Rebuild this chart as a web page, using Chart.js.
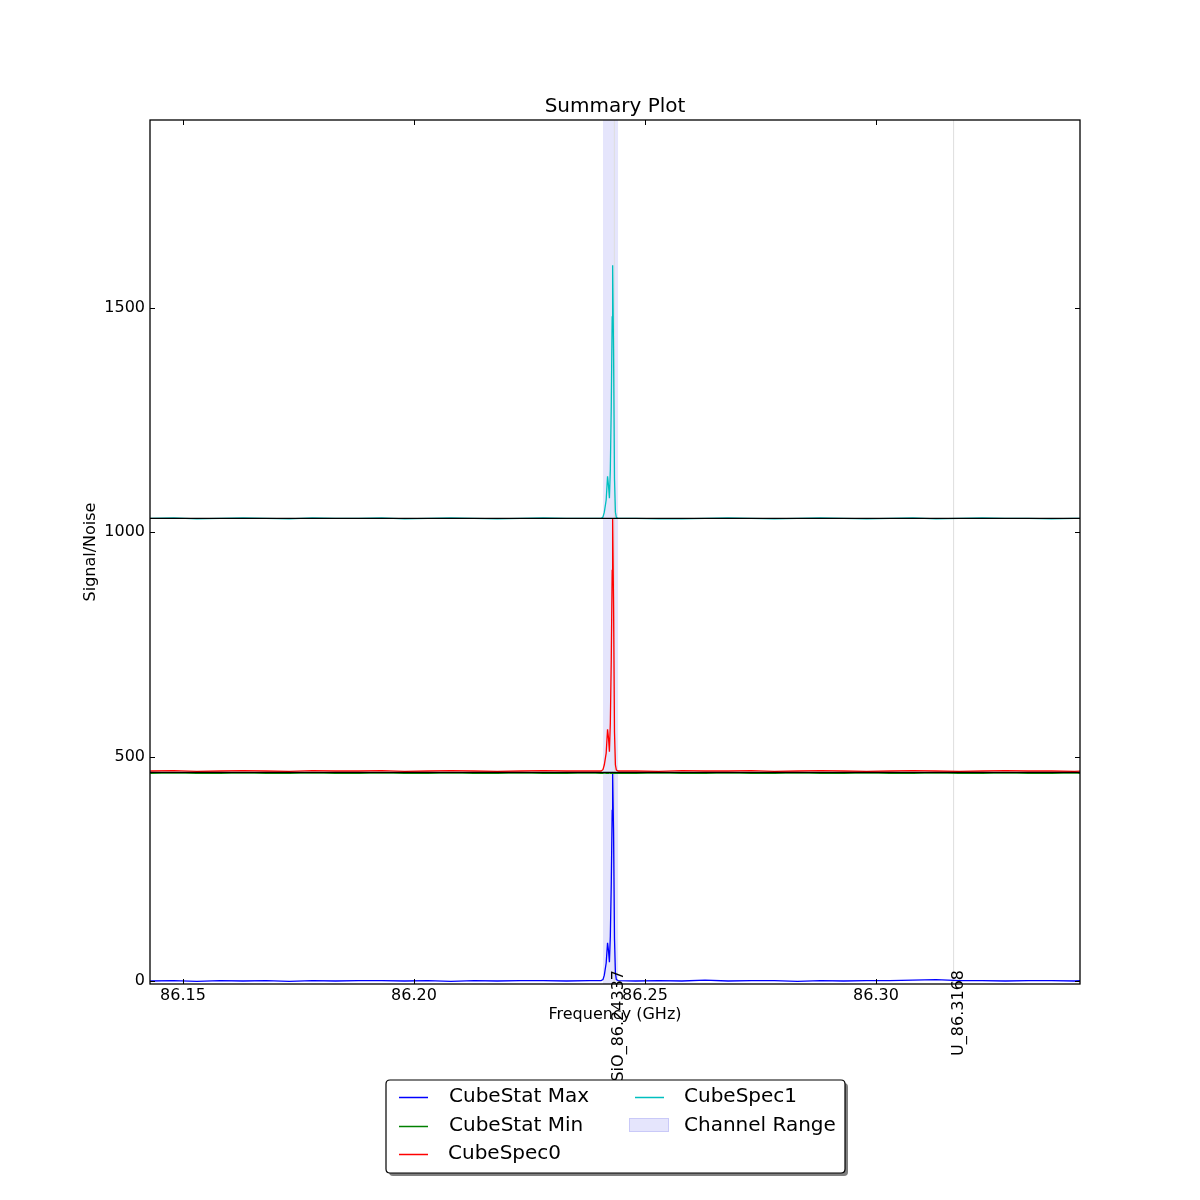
<!DOCTYPE html>
<html><head><meta charset="utf-8">
<script src="https://cdn.jsdelivr.net/npm/chart.js@4.4.1/dist/chart.umd.min.js"></script>
<style>html,body{margin:0;padding:0;background:#fff}#wrap{width:1200px;height:1200px;position:relative}</style>
</head><body><div id="wrap"><canvas id="c" width="1200" height="1200"></canvas></div>
<script>
// ---------------- DATA ----------------
const freq = [
  86.1429, 86.148, 86.153, 86.158, 86.163, 86.168, 86.173, 86.178, 86.183, 86.188,
  86.193, 86.198, 86.203, 86.208, 86.213, 86.218, 86.223, 86.228, 86.233, 86.238,
  86.2405, 86.2409, 86.2412, 86.2416, 86.2419, 86.2421, 86.2423, 86.2425, 86.2427, 86.2429,
  86.2430, 86.2432, 86.2434, 86.2436, 86.2438, 86.2442,
  86.248, 86.253, 86.258, 86.263, 86.268, 86.273, 86.278, 86.283, 86.288, 86.293,
  86.298, 86.303, 86.308, 86.313, 86.318, 86.323, 86.328, 86.333, 86.338, 86.343, 86.3442
];
const cubeStatMax = [
  0, 1, -1, 1, 0, 1, -1, 1, 0, 1, 1, 0, 1, -1, 1, 0, 1, 1, 0, 1,
  1, 3, 13, 40, 85, 68, 42, 100, 215, 380, 463, 330, 95, 18, 3, 1,
  0, 1, 0, 2, 0, 1, 1, -1, 1, 0, 1, 1, 2, 3, 1, 1, 0, 1, 1, 0, 1
];
const cubeStatMin = [
  463, 464, 463, 463, 464, 463, 463, 464, 463, 463, 464, 463, 463, 464, 463, 463, 464, 463, 463, 464,
  463, 463, 464, 463, 463, 463, 464, 463, 463, 463, 464, 463, 463, 463, 463, 463,
  463, 464, 463, 463, 464, 463, 463, 464, 463, 463, 464, 463, 463, 464, 463, 463, 464, 463, 463, 464, 463
];
const cubeSpec0 = [
  468, 469, 467, 468, 469, 468, 467, 469, 468, 468, 469, 467, 468, 469, 468, 467, 468, 469, 468, 468,
  468, 471, 482, 508, 561, 542, 511, 575, 715, 915, 1031, 835, 555, 482, 470, 468,
  468, 467, 469, 468, 468, 469, 467, 468, 469, 468, 467, 468, 469, 468, 467, 468, 469, 468, 468, 467, 468
];
const cubeSpec1 = [
  1031, 1032, 1030, 1031, 1032, 1031, 1030, 1032, 1031, 1031, 1032, 1030, 1031, 1032, 1031, 1030, 1031, 1032, 1031, 1031,
  1031, 1034, 1045, 1072, 1125, 1105, 1076, 1140, 1280, 1480, 1595, 1400, 1120, 1045, 1033, 1031,
  1031, 1030, 1030, 1031, 1032, 1031, 1030, 1031, 1032, 1031, 1030, 1031, 1032, 1030, 1031, 1032, 1031, 1031, 1030, 1031, 1031
];
const offsetLevels = [465, 1031];
const channelRange = [86.2409, 86.2442];
const lineFreqs = [86.24337, 86.3168];
const lineLabels = ['SiO_86.24337', 'U_86.3168'];
const xTicks = [86.15, 86.20, 86.25, 86.30];
const yTicks = [0, 500, 1000, 1500];
const xRange = [86.14286, 86.34416];
const yRange = [-6.7, 1919];
const seriesNames = ['CubeStat Max', 'CubeStat Min', 'CubeSpec0', 'CubeSpec1'];
const seriesColors = ['#0000ff', '#008000', '#ff0000', '#00bfbf'];
const bandName = 'Channel Range';

// ---------------- CHART ----------------
const FONT = "'DejaVu Sans', 'Liberation Sans', sans-serif";
const pts = arr => freq.map((f, i) => ({x: f, y: arr[i]}));
const seriesData = [cubeStatMax, cubeStatMin, cubeSpec0, cubeSpec1];

const datasets = [];
datasets.push({
  label: bandName, type: 'line',
  data: [{x: channelRange[0], y: yRange[1]}, {x: channelRange[1], y: yRange[1]}],
  borderWidth: 0, borderColor: 'rgba(0,0,0,0)', backgroundColor: 'rgba(40,40,230,0.12)',
  fill: 'start', pointRadius: 0, order: 10
});
lineFreqs.forEach((f, i) => datasets.push({
  label: '_line' + i, data: [{x: f, y: yRange[0]}, {x: f, y: yRange[1]}],
  borderColor: '#dedede', borderWidth: 1, pointRadius: 0, fill: false, order: 9
}));
seriesData.forEach((arr, i) => datasets.push({
  label: seriesNames[i], data: pts(arr), borderColor: seriesColors[i],
  borderWidth: 1.3, pointRadius: 0, fill: false, tension: 0, order: 8 - i
}));
offsetLevels.forEach((lvl, i) => datasets.push({
  label: '_offset' + i, data: [{x: xRange[0], y: lvl}, {x: xRange[1], y: lvl}],
  borderColor: '#000000', borderWidth: 1.3, pointRadius: 0, fill: false, order: 1
}));

const deco = {
  id: 'deco',
  afterDatasetsDraw(chart) {
    const {ctx, chartArea: a, scales: {x, y}} = chart;
    ctx.save();
    ctx.strokeStyle = '#000'; ctx.lineWidth = 1.3;
    ctx.strokeRect(a.left, a.top, a.right - a.left, a.bottom - a.top);
    ctx.lineWidth = 1;
    ctx.beginPath();
    yTicks.forEach(v => {
      const py = Math.round(y.getPixelForValue(v)) + 0.5;
      ctx.moveTo(a.left, py); ctx.lineTo(a.left + 5, py);
      ctx.moveTo(a.right, py); ctx.lineTo(a.right - 5, py);
    });
    xTicks.forEach(v => {
      const px = Math.round(x.getPixelForValue(v)) + 0.5;
      ctx.moveTo(px, a.bottom); ctx.lineTo(px, a.bottom - 5);
      ctx.moveTo(px, a.top); ctx.lineTo(px, a.top + 5);
    });
    ctx.stroke();
    ctx.restore();
  },
  afterDraw(chart) {
    const {ctx, chartArea: a, scales: {x}} = chart;
    const cx = (a.left + a.right) / 2;
    ctx.save();
    ctx.fillStyle = '#000';
    ctx.font = '20px ' + FONT; ctx.textAlign = 'center'; ctx.textBaseline = 'alphabetic';
    ctx.fillText('Summary Plot', cx, 112);
    ctx.font = '16px ' + FONT;
    ctx.fillText('Frequency (GHz)', cx, 1019);
    ctx.save(); ctx.translate(95, (a.top + a.bottom) / 2); ctx.rotate(-Math.PI / 2);
    ctx.fillText('Signal/Noise', 0, 0); ctx.restore();
    lineFreqs.forEach((f, i) => {
      const px = x.getPixelForValue(f);
      ctx.save(); ctx.translate(px + 9, 970); ctx.rotate(-Math.PI / 2);
      ctx.textAlign = 'right'; ctx.textBaseline = 'alphabetic';
      ctx.fillText(lineLabels[i], 0, 0); ctx.restore();
    });
    // legend
    const L = 386, T = 1080, W = 459, H = 93;
    const rr = (xx, yy, w, h, r) => {
      ctx.beginPath();
      ctx.moveTo(xx + r, yy); ctx.lineTo(xx + w - r, yy); ctx.quadraticCurveTo(xx + w, yy, xx + w, yy + r);
      ctx.lineTo(xx + w, yy + h - r); ctx.quadraticCurveTo(xx + w, yy + h, xx + w - r, yy + h);
      ctx.lineTo(xx + r, yy + h); ctx.quadraticCurveTo(xx, yy + h, xx, yy + h - r);
      ctx.lineTo(xx, yy + r); ctx.quadraticCurveTo(xx, yy, xx + r, yy); ctx.closePath();
    };
    rr(L + 3, T + 3, W, H, 4); ctx.fillStyle = 'rgba(0,0,0,0.5)'; ctx.fill();
    rr(L, T, W, H, 4); ctx.fillStyle = '#fff'; ctx.fill();
    ctx.strokeStyle = '#000'; ctx.lineWidth = 1.2; ctx.stroke();
    ctx.font = '20px ' + FONT; ctx.textAlign = 'left'; ctx.textBaseline = 'middle';
    const rows = [1097, 1126, 1154];
    const items = [
      {c: 0, r: 0, i: 0}, {c: 0, r: 1, i: 1}, {c: 0, r: 2, i: 2}, {c: 1, r: 0, i: 3}
    ];
    items.forEach(it => {
      const hx = it.c === 0 ? 399 : 635, tx = it.c === 0 ? 449 : 684;
      ctx.strokeStyle = seriesColors[it.i]; ctx.lineWidth = 1.5;
      ctx.beginPath(); ctx.moveTo(hx, rows[it.r] + 0.5); ctx.lineTo(hx + 29, rows[it.r] + 0.5); ctx.stroke();
      ctx.fillStyle = '#000';
      ctx.fillText(seriesNames[it.i], it.c === 0 && it.r === 2 ? 448 : tx, rows[it.r]);
    });
    ctx.fillStyle = 'rgba(40,40,230,0.12)'; ctx.fillRect(629, 1118, 40, 14);
    ctx.strokeStyle = 'rgba(40,40,230,0.15)'; ctx.lineWidth = 1; ctx.strokeRect(629.5, 1118.5, 39, 13);
    ctx.fillStyle = '#000'; ctx.fillText(bandName, 684, 1126);
    ctx.restore();
  }
};

new Chart(document.getElementById('c'), {
  type: 'line',
  data: {datasets},
  options: {
    responsive: false, animation: false, devicePixelRatio: 1,
    layout: {padding: {left: 0, right: 120, top: 120, bottom: 0}},
    plugins: {legend: {display: false}, title: {display: false}, tooltip: {enabled: false}},
    elements: {line: {borderCapStyle: 'butt'}},
    scales: {
      x: {
        type: 'linear', min: xRange[0], max: xRange[1],
        afterBuildTicks: s => { s.ticks = xTicks.map(v => ({value: v})); },
        afterFit: s => { s.height = 216; },
        grid: {display: false, drawTicks: false}, border: {display: false},
        ticks: {font: {family: FONT, size: 16}, color: '#000', padding: 2, maxRotation: 0, autoSkip: false,
                callback: v => Number(v).toFixed(2)}
      },
      y: {
        type: 'linear', min: yRange[0], max: yRange[1],
        afterBuildTicks: s => { s.ticks = yTicks.map(v => ({value: v})); },
        afterFit: s => { s.width = 150; },
        grid: {display: false, drawTicks: false}, border: {display: false},
        ticks: {font: {family: FONT, size: 16}, color: '#000', padding: 5, autoSkip: false,
                callback: v => String(v)}
      }
    }
  },
  plugins: [deco]
});
</script></body></html>
